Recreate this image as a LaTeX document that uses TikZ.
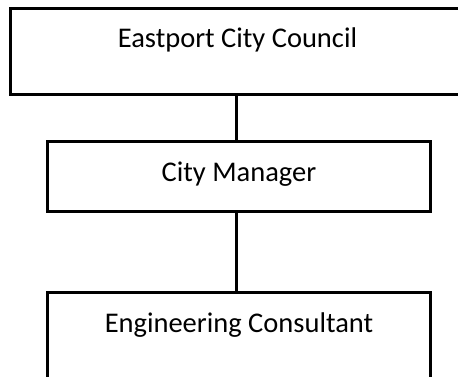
\documentclass[tikz,border=0pt]{standalone}
\usepackage{fontspec}
\setmainfont{Carlito}
\begin{document}
\begin{tikzpicture}[x=1pt,y=-1pt,
  box/.style={draw=black, line width=3pt, rectangle, inner sep=0pt, outer sep=0pt, anchor=north west, font=\fontsize{28.5}{34}\selectfont},
  link/.style={draw=black, line width=3pt}]
\useasboundingbox (0,0) rectangle (458,377);
\clip (0,0) rectangle (458,377);
\fill[white] (0,0) rectangle (458,377);
\node[box, minimum width=454pt, text height=39.5pt, text depth=47pt] (council) at (10.5,8.5) {Eastport City Council};
\node[box, minimum width=383pt, text height=40.5pt, text depth=29.5pt] (manager) at (47.5,141.5) {City Manager};
\node[box, minimum width=383pt, text height=39.5pt, text depth=46pt] (consultant) at (47.5,292.5) {Engineering Consultant};
\draw[link] ([xshift=-1pt]council.south) -- ([xshift=-2.5pt]manager.north);
\draw[link] ([xshift=-2.5pt]manager.south) -- ([xshift=-2.5pt]consultant.north);
\end{tikzpicture}
\end{document}
